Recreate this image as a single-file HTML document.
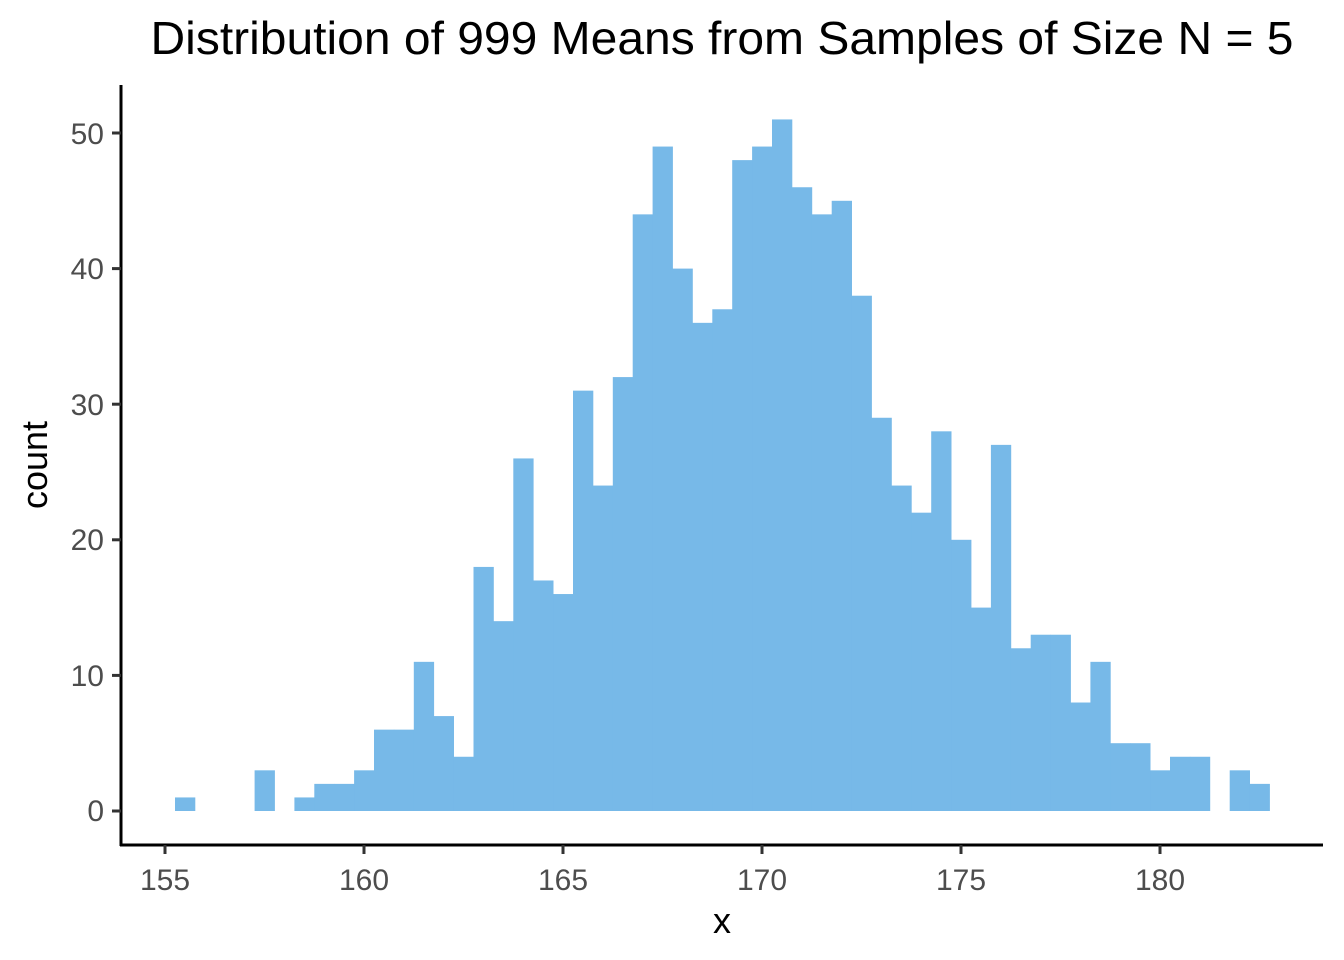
<!DOCTYPE html>
<html><head><style>body{margin:0;background:#fff}svg{display:block}</style></head>
<body>
<svg id="s" width="1344" height="960" xmlns="http://www.w3.org/2000/svg" font-family="Liberation Sans, sans-serif">
<rect width="1344" height="960" fill="#fff"/>
<g id="bars" fill="#77b9e8"></g>
<line x1="121" y1="85" x2="121" y2="846" stroke="#000" stroke-width="3"/>
<line x1="120" y1="845" x2="1323" y2="845" stroke="#000" stroke-width="3"/>
<g stroke="#333" stroke-width="3">
<line x1="112" y1="811" x2="121" y2="811"/><line x1="112" y1="675.4" x2="121" y2="675.4"/><line x1="112" y1="539.8" x2="121" y2="539.8"/><line x1="112" y1="404.2" x2="121" y2="404.2"/><line x1="112" y1="268.6" x2="121" y2="268.6"/><line x1="112" y1="133" x2="121" y2="133"/>
<line x1="165" y1="845" x2="165" y2="854"/><line x1="364" y1="845" x2="364" y2="854"/><line x1="563" y1="845" x2="563" y2="854"/><line x1="762" y1="845" x2="762" y2="854"/><line x1="961" y1="845" x2="961" y2="854"/><line x1="1160" y1="845" x2="1160" y2="854"/>
</g>
<g fill="#4d4d4d" font-size="30" text-anchor="end">
<text x="104" y="821">0</text><text x="104" y="686">10</text><text x="104" y="550">20</text><text x="104" y="415">30</text><text x="104" y="279">40</text><text x="104" y="144">50</text>
</g>
<g fill="#4d4d4d" font-size="30" text-anchor="middle">
<text x="165" y="890">155</text><text x="364" y="890">160</text><text x="563" y="890">165</text><text x="762" y="890">170</text><text x="961" y="890">175</text><text x="1160" y="890">180</text>
</g>
<text x="722" y="933" font-size="36" text-anchor="middle">x</text>
<text transform="translate(47,465) rotate(-90)" font-size="36" text-anchor="middle">count</text>
<text x="722" y="54" font-size="46" text-anchor="middle" textLength="1143" lengthAdjust="spacingAndGlyphs">Distribution of 999 Means from Samples of Size N = 5</text>
</svg>
<script>
var c=[1,0,0,0,3,0,1,2,2,3,6,6,11,7,4,18,14,26,17,16,31,24,32,44,49,40,36,37,48,49,51,46,44,45,38,29,24,22,28,20,15,27,12,13,13,8,11,5,5,3,4,4,0,3,2];
var g=document.getElementById('bars'),h='';
for(var i=0;i<c.length;i++){if(!c[i])continue;var x=175+i*19.9,hh=c[i]*13.56;
h+='<rect x="'+x.toFixed(2)+'" y="'+(811-hh).toFixed(2)+'" width="20.3" height="'+hh.toFixed(2)+'"/>';}
g.innerHTML=h;
</script>
</body></html>
